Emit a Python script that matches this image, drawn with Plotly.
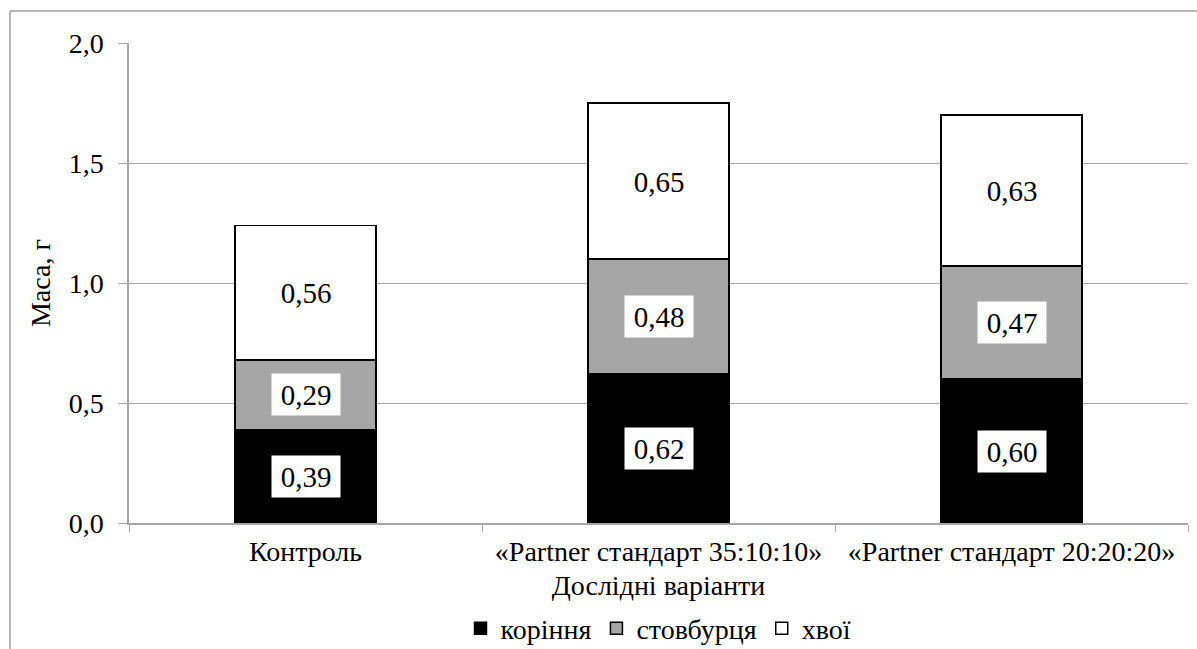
import plotly.graph_objects as go

categories = ["Контроль", "«Partner стандарт 35:10:10»", "«Partner стандарт 20:20:20»"]
series_names = ["коріння", "стовбурця", "хвої"]
roots = [0.39, 0.62, 0.60]
stems = [0.29, 0.48, 0.47]
needles = [0.56, 0.65, 0.63]
y_ticks = [0.0, 0.5, 1.0, 1.5, 2.0]
y_tick_labels = ["0,0", "0,5", "1,0", "1,5", "2,0"]

FONT = "Liberation Serif, Times New Roman, serif"
FS = 28
colors = ["#000000", "#a6a6a6", "#ffffff"]
values = [roots, stems, needles]

fig = go.Figure()
for name, vals, col in zip(series_names, values, colors):
    fig.add_trace(go.Bar(
        x=categories, y=vals, name=name,
        marker=dict(color=col, line=dict(color="#000000", width=1.5)),
        width=0.4,
    ))

annotations = []
for i, cat in enumerate(categories):
    base = 0.0
    for vals in values:
        v = vals[i]
        annotations.append(dict(
            x=cat, y=base + v / 2, xref="x", yref="y",
            text=f"{v:.2f}".replace(".", ","), showarrow=False,
            font=dict(family=FONT, size=29, color="#000000"),
            bgcolor="#ffffff", borderpad=3, width=62, height=35,
        ))
        base += v

fig.update_layout(
    barmode="stack",
    width=1197, height=649,
    margin=dict(l=129, r=9, t=43, b=126, autoexpand=False),
    paper_bgcolor="#ffffff", plot_bgcolor="#ffffff",
    font=dict(family=FONT, size=FS, color="#000000"),
    showlegend=True,
    legend=dict(orientation="h", x=0.5, xanchor="center", xref="paper",
                y=-0.168, yanchor="top", traceorder="normal",
                font=dict(family=FONT, size=FS), itemwidth=30,
                bgcolor="rgba(0,0,0,0)"),
    annotations=annotations,
)
fig.update_xaxes(
    showline=True, linecolor="#a6a6a6", linewidth=1.5,
    ticks="outside", tickson="boundaries", ticklen=7, tickcolor="#a6a6a6",
    tickfont=dict(family=FONT, size=FS),
    ticklabelstandoff=3,
    title=dict(text="Дослідні варіанти", font=dict(family=FONT, size=FS), standoff=9),
    showgrid=False, automargin=False,
)
fig.update_yaxes(
    range=[0, 2.0], tickvals=y_ticks, ticktext=y_tick_labels,
    showline=True, linecolor="#a6a6a6", linewidth=1.5,
    ticks="outside", ticklen=8, tickcolor="#a6a6a6",
    showgrid=True, gridcolor="#a6a6a6", gridwidth=1.2,
    zeroline=False,
    tickfont=dict(family=FONT, size=FS),
    ticklabelstandoff=10,
    title=dict(text="Маса, г", font=dict(family=FONT, size=FS), standoff=10),
    automargin=False,
)
# outer chart frame (top and left edges visible)
fig.add_shape(type="line", xref="paper", yref="paper",
              x0=-119/1059, x1=1.2, y0=1 + 32/480, y1=1 + 32/480,
              line=dict(color="#a0a0a0", width=1.5))
fig.add_shape(type="line", xref="paper", yref="paper",
              x0=-119/1059, x1=-119/1059, y0=1 + 32/480, y1=-0.5,
              line=dict(color="#a0a0a0", width=1.5))

fig.write_html("out.html", config={"displayModeBar": False},
               post_script="document.body.style.margin='0';")
